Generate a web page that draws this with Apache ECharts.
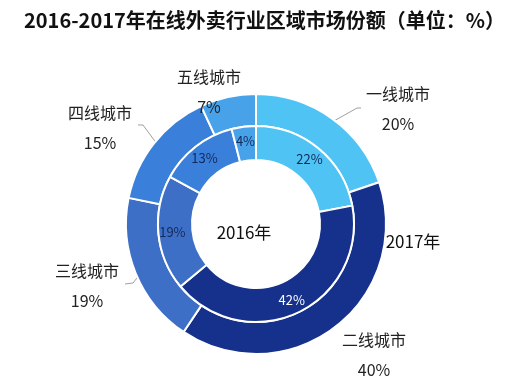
<!DOCTYPE html>
<html>
<head>
<meta charset="utf-8">
<script src="https://cdn.jsdelivr.net/npm/echarts@6/dist/echarts.min.js"></script>
<style>
  html, body { margin: 0; padding: 0; background: #fff; }
  #chart { width: 519px; height: 390px; }
</style>
</head>
<body>
<div id="chart"></div>
<script>
// ---- data ----
const categories = ['一线城市', '二线城市', '三线城市', '四线城市', '五线城市'];
const values2017 = [20, 40, 19, 15, 7];
const values2016 = [22, 42, 19, 13, 4];
const titleText = '2016-2017年在线外卖行业区域市场份额（单位：%）';

// ---- style / layout ----
const colors = ['#4ec3f4', '#15318b', '#3e6fc6', '#3a7fd9', '#47a2e9'];
const innerLabelColors = ['#14285a', '#ffffff', '#14285a', '#14285a', '#14285a'];
const CX = 256, CY = 224;
// outer label block centres and leader-line bends (layout only)
const outerLabelLayout = [
  { x: 398, y: 109, line: [[357, 108], [361, 108]] },
  { x: 374, y: 355, line: null },
  { x: 87,  y: 286, line: [[133, 283], [125, 284]] },
  { x: 100, y: 128, line: [[143, 125], [138, 125]] },
  { x: 209, y: 92,  line: null }
];

const chart = echarts.init(document.getElementById('chart'), null, { renderer: 'canvas' });

const outerData = categories.map((n, i) => {
  const item = { name: n, value: values2017[i], itemStyle: { color: colors[i] } };
  if (!outerLabelLayout[i].line) item.labelLine = { show: false };
  return item;
});
const innerData = categories.map((n, i) => ({
  name: n, value: values2016[i],
  itemStyle: { color: colors[i] },
  label: { color: innerLabelColors[i] }
}));

const option = {
  animation: false,
  backgroundColor: '#ffffff',
  title: {
    text: titleText,
    left: 19, top: 5,
    textStyle: { fontFamily: 'Noto Sans CJK SC', fontSize: 20, fontWeight: 'bold', color: '#111' }
  },
  graphic: [
    { type: 'text', left: 'center', x: 0, style: {} , invisible: true },
    { type: 'text', x: 244, y: 233, style: { text: '2016年', align: 'center', verticalAlign: 'middle',
      font: '17px "Noto Sans CJK SC"', fill: '#111' } },
    { type: 'text', x: 413, y: 242, style: { text: '2017年', align: 'center', verticalAlign: 'middle',
      font: '17px "Noto Sans CJK SC"', fill: '#111' } }
  ],
  series: [
    {
      name: '2017年', type: 'pie',
      center: [CX, CY], radius: [98, 130],
      startAngle: 90, clockwise: true,
      avoidLabelOverlap: false,
      itemStyle: { borderColor: '#ffffff', borderWidth: 2 },
      label: {
        show: true, position: 'outside',
        formatter: '{b}\n{c}%',
        fontFamily: 'Noto Sans CJK SC', fontSize: 16, lineHeight: 30, color: '#222'
      },
      labelLine: { show: true, length: 15, length2: 10, lineStyle: { color: '#a0a0a0', width: 1 } },
      labelLayout: function (p) {
        const L = outerLabelLayout[p.dataIndex];
        const res = { x: L.x, y: L.y, align: 'center', verticalAlign: 'middle' };
        const pts = p.labelLinePoints;
        if (L.line && pts && pts.length > 1) {
          const x0 = pts[0][0], y0 = pts[0][1], x1 = pts[1][0], y1 = pts[1][1];
          const d = Math.hypot(x1 - x0, y1 - y0) || 1;
          const start = [x0 - (x1 - x0) / d * 8, y0 - (y1 - y0) / d * 8];
          res.labelLinePoints = [start].concat(L.line);
        }
        return res;
      },
      emphasis: { disabled: true },
      data: outerData
    },
    {
      name: '2016年', type: 'pie',
      center: [CX, CY], radius: [64, 98],
      startAngle: 90, clockwise: true,
      avoidLabelOverlap: false,
      itemStyle: { borderColor: '#ffffff', borderWidth: 2 },
      label: {
        show: true, position: 'inside',
        formatter: '{c}%',
        fontFamily: 'Noto Sans CJK SC', fontSize: 13
      },
      labelLine: { show: false },
      emphasis: { disabled: true },
      data: innerData
    }
  ]
};
option.graphic.shift();
chart.setOption(option);
</script>
</body>
</html>
